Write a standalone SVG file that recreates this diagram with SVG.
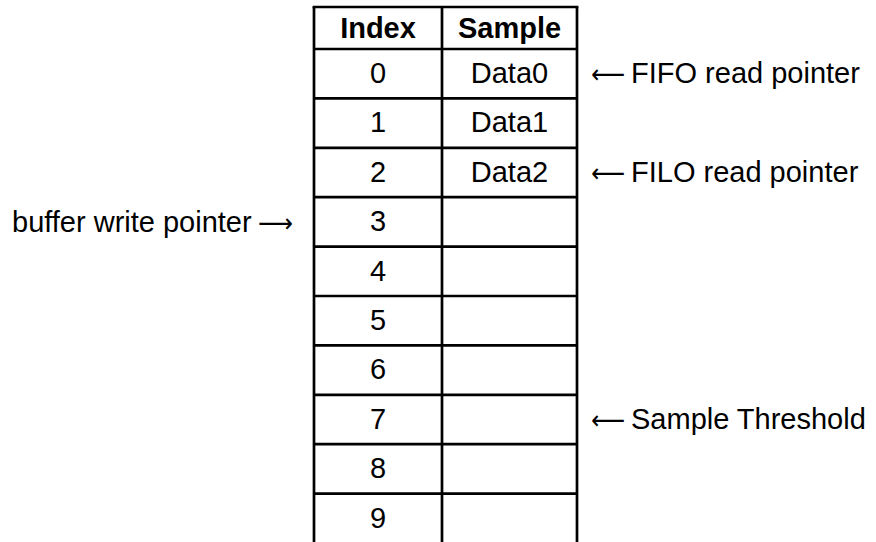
<svg xmlns="http://www.w3.org/2000/svg" width="876" height="542" viewBox="0 0 876 542">
<style>
.g{stroke:#000;stroke-width:2.7;fill:none}
text{font-family:"Liberation Sans",Arial,sans-serif;font-size:29px;fill:#000}
.h{font-weight:bold}
.c{text-anchor:middle}
.a{font-family:"DejaVu Sans",sans-serif;font-size:26px}
</style>
<rect width="876" height="542" fill="#fff"/>
<g id="grid" class="g">
<path d="M314,7V542M442,7V542M577,7V542"/>
<path d="M312.6,7H578.4M314,49H577M314,98.4H577M314,147.8H577M314,197.2H577M314,246.6H577M314,296H577M314,345.4H577M314,394.8H577M314,444.2H577M314,493.6H577"/>
</g>
<g id="header"><text class="h c" x="378" y="38">Index</text><text class="h c" x="509.5" y="38">Sample</text></g>
<g id="row0"><text class="c" x="378" y="83">0</text><text class="c" x="509.5" y="83">Data0</text></g>
<g id="row1"><text class="c" x="378" y="132.4">1</text><text class="c" x="509.5" y="132.4">Data1</text></g>
<g id="row2"><text class="c" x="378" y="181.8">2</text><text class="c" x="509.5" y="181.8">Data2</text></g>
<g id="row3"><text class="c" x="378" y="231.2">3</text></g>
<g id="row4"><text class="c" x="378" y="280.6">4</text></g>
<g id="row5"><text class="c" x="378" y="330">5</text></g>
<g id="row6"><text class="c" x="378" y="379.4">6</text></g>
<g id="row7"><text class="c" x="378" y="428.8">7</text></g>
<g id="row8"><text class="c" x="378" y="478.2">8</text></g>
<g id="row9"><text class="c" x="378" y="527.6">9</text></g>
<g id="labels">
<text class="a" x="591" y="83" textLength="34" lengthAdjust="spacingAndGlyphs">⟵</text>
<text x="631" y="83">FIFO read pointer</text>
<text class="a" x="591" y="181.8" textLength="34" lengthAdjust="spacingAndGlyphs">⟵</text>
<text x="631" y="181.8">FILO read pointer</text>
<text class="a" x="591" y="429" textLength="34" lengthAdjust="spacingAndGlyphs">⟵</text>
<text x="631" y="429">Sample Threshold</text>
<text x="12" y="231.5">buffer write pointer</text>
<text class="a" x="258" y="231.5" textLength="35" lengthAdjust="spacingAndGlyphs">⟶</text>
</g>
</svg>
